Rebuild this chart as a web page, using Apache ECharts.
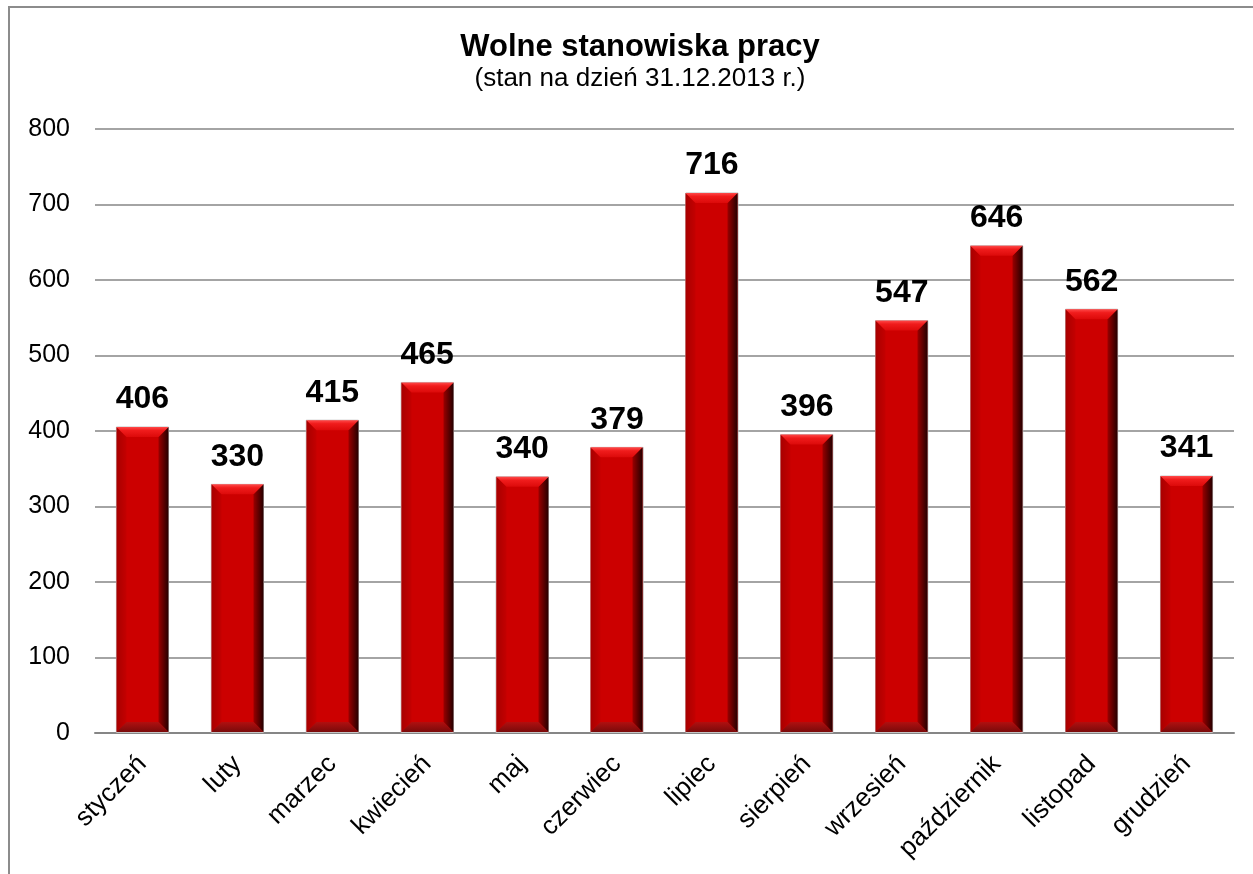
<!DOCTYPE html>
<html>
<head>
<meta charset="utf-8">
<script src="https://cdn.jsdelivr.net/npm/echarts@6/dist/echarts.min.js"></script>
<style>
  html, body { margin: 0; padding: 0; background: #fff; }
  #chart { width: 1253px; height: 874px; }
</style>
</head>
<body>
<div id="chart"></div>
<script>
// months and vacancies
const months = ['styczeń', 'luty', 'marzec', 'kwiecień', 'maj', 'czerwiec', 'lipiec', 'sierpień', 'wrzesień', 'październik', 'listopad', 'grudzień']
const vacancies = [406, 330, 415, 465, 340, 379, 716, 396, 547, 646, 562, 341]
const yTicks = { min: 0, max: 800, interval: 100 }

const BAR_RATIO = 0.56
const BEVEL = 10

const chart = echarts.init(document.getElementById('chart'))

// bevel overlay drawn on top of each bar
function renderBevel(params, api) {
  const top = api.coord([api.value(0), api.value(1)])
  const bottom = api.coord([api.value(0), 0])
  const w = api.size([1, 0])[0] * BAR_RATIO
  const x0 = Math.round(top[0] - w / 2) + 0.5
  const x1 = x0 + Math.round(w) - 1
  const y0 = top[1] + 0.5
  const y1 = bottom[1] - 1
  const b = Math.min(BEVEL, (y1 - y0) / 2)
  return {
    type: 'group',
    silent: true,
    children: [
      {
        type: 'polygon',
        shape: { points: [[x0, y0], [x0 + b, y0 + b], [x0 + b, y1 - b], [x0, y1]] },
        style: { fill: new echarts.graphic.LinearGradient(0, 0, 1, 0, [
          { offset: 0, color: '#a80000' }, { offset: 1, color: '#c40000' }
        ]) }
      },
      {
        type: 'polygon',
        shape: { points: [[x1, y0], [x1, y1], [x1 - b, y1 - b], [x1 - b, y0 + b]] },
        style: { fill: new echarts.graphic.LinearGradient(0, 0, 1, 0, [
          { offset: 0, color: '#9a0000' }, { offset: 1, color: '#250000' }
        ]) }
      },
      {
        type: 'polygon',
        shape: { points: [[x0, y1], [x1, y1], [x1 - b, y1 - b], [x0 + b, y1 - b]] },
        style: { fill: new echarts.graphic.LinearGradient(0, 0, 0, 1, [
          { offset: 0, color: '#b01010' }, { offset: 1, color: '#7a0a0a' }
        ]) }
      },
      {
        type: 'polygon',
        shape: { points: [[x0, y0], [x1, y0], [x1 - b, y0 + b], [x0 + b, y0 + b]] },
        style: { fill: new echarts.graphic.LinearGradient(0, 0, 0, 1, [
          { offset: 0, color: '#ff4a4a' }, { offset: 0.35, color: '#f01c1c' }, { offset: 1, color: '#dc0a0a' }
        ]) }
      }
    ]
  }
}

const option = {
  backgroundColor: '#fff',
  textStyle: { fontFamily: 'Liberation Sans, Arial, sans-serif' },
  title: {
    text: 'Wolne stanowiska pracy',
    subtext: '(stan na dzień 31.12.2013 r.)',
    left: 635,
    top: 27,
    textAlign: 'center',
    itemGap: 3,
    textStyle: { fontSize: 31, fontWeight: 'bold', color: '#000' },
    subtextStyle: { fontSize: 26, color: '#000' }
  },
  graphic: [
    {
      type: 'rect',
      shape: { x: 9, y: 7, width: 1300, height: 900 },
      style: { fill: 'none', stroke: '#8c8c8c', lineWidth: 2 },
      silent: true,
      z: -1
    }
  ],
  grid: { left: 95, right: 19, top: 129, bottom: 141, containLabel: false },
  xAxis: {
    type: 'category',
    data: months,
    axisLine: { lineStyle: { color: '#868686', width: 2 } },
    axisTick: { show: false },
    axisLabel: { rotate: 45, margin: 27, fontSize: 26, color: '#000', interval: 0 }
  },
  yAxis: {
    type: 'value',
    min: yTicks.min,
    max: yTicks.max,
    interval: yTicks.interval,
    axisLine: { show: false },
    axisTick: { show: false },
    axisLabel: { fontSize: 25, color: '#000', margin: 25 },
    splitLine: { lineStyle: { color: '#868686', width: 1.5 } }
  },
  series: [
    {
      type: 'bar',
      data: vacancies,
      barWidth: (BAR_RATIO * 100) + '%',
      itemStyle: { color: '#cc0000', borderColor: '#c4c4c4', borderWidth: 1 },
      label: {
        show: true,
        position: 'top',
        distance: 11,
        fontSize: 32,
        fontWeight: 'bold',
        color: '#000'
      }
    },
    {
      type: 'custom',
      data: vacancies.map((v, i) => [i, v]),
      encode: { x: 0, y: 1 },
      renderItem: renderBevel,
      z: 3
    }
  ]
}

chart.setOption(option)
</script>
</body>
</html>
